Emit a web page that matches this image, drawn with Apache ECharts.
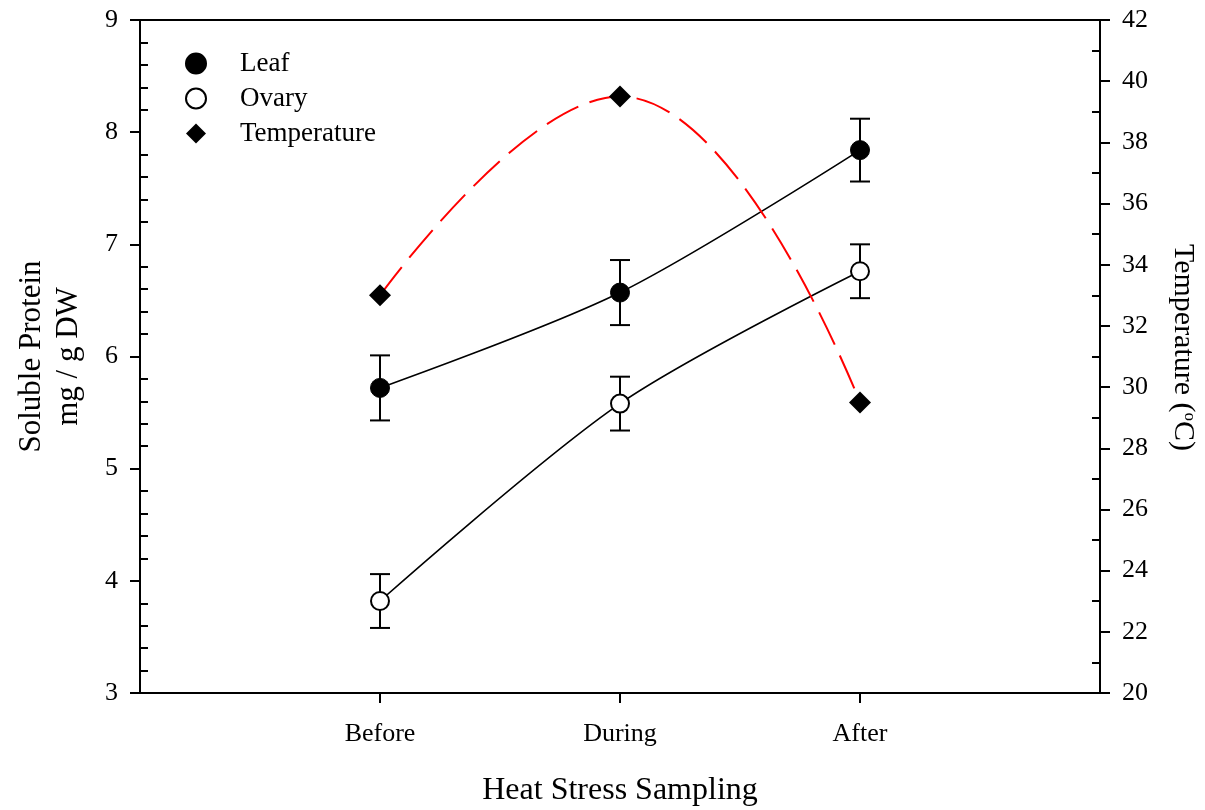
<!DOCTYPE html>
<html>
<head>
<meta charset="utf-8">
<script src="https://cdn.jsdelivr.net/npm/echarts@6/dist/echarts.min.js"></script>
<style>
  html, body { margin: 0; padding: 0; background: #fff; }
  #chart { width: 1205px; height: 810px; }
</style>
</head>
<body>
<div id="chart"></div>
<script>
// data
const categories = ['Before', 'During', 'After'];
const leafMean = [5.72, 6.57, 7.84];
const leafErr = [0.29, 0.29, 0.28];
const ovaryMean = [3.82, 5.58, 6.76];
const ovaryErr = [0.24, 0.24, 0.24];
const temperature = [33, 39.5, 29.5];

const FONT = 'Liberation Serif';

// x positions 1..3 on a 0..4 value axis
const pts = arr => arr.map((v, i) => [i + 1, v]);
const errPts = (mean, err) => mean.map((v, i) => [i + 1, v - err[i], v + err[i]]);

// minor tick positions (inside ticks)
const leftMinor = [];
for (let i = 0; i <= 30; i++) { if (i % 5 !== 0) leftMinor.push(3 + i * 0.2); }
const rightMinor = [];
for (let v = 21; v < 42; v += 2) rightMinor.push(v);

const chart = echarts.init(document.getElementById('chart'));

function errorBar(params, api) {
    const x = api.value(0);
    const lo = api.coord([x, api.value(1)]);
    const hi = api.coord([x, api.value(2)]);
    const w = 10;
    const style = { stroke: '#000', lineWidth: 2 };
    return {
        type: 'group',
        children: [
            { type: 'line', shape: { x1: lo[0], y1: lo[1], x2: hi[0], y2: hi[1] }, style: style },
            { type: 'line', shape: { x1: lo[0] - w, y1: lo[1], x2: lo[0] + w, y2: lo[1] }, style: style },
            { type: 'line', shape: { x1: hi[0] - w, y1: hi[1], x2: hi[0] + w, y2: hi[1] }, style: style }
        ]
    };
}

const option = {
    animation: false,
    backgroundColor: '#fff',
    grid: {
        left: 140, right: 105, top: 20, bottom: 117,
        outerBoundsMode: 'none',
        show: true, borderColor: '#000', borderWidth: 2
    },
    legend: {
        orient: 'vertical',
        left: 180, top: 45,
        itemWidth: 20, itemHeight: 20, itemGap: 8,
        textStyle: { fontFamily: FONT, fontSize: 27, lineHeight: 20, color: '#000', padding: [0, 0, 0, 29] },
        data: [
            { name: 'Leaf', icon: 'circle' },
            { name: 'Ovary', icon: 'circle' },
            { name: 'Temperature', icon: 'diamond', itemStyle: { color: '#000' } }
        ]
    },
    xAxis: {
        type: 'value', min: 0, max: 4, interval: 1,
        name: 'Heat Stress Sampling',
        nameLocation: 'middle', nameGap: 82,
        nameTextStyle: { fontFamily: FONT, fontSize: 32, color: '#000' },
        axisLine: { lineStyle: { color: '#000', width: 2 } },
        axisTick: { length: 10, lineStyle: { width: 2 }, customValues: [1, 2, 3] },
        axisLabel: {
            customValues: [1, 2, 3], margin: 28,
            fontFamily: FONT, fontSize: 26, color: '#000',
            formatter: v => categories[v - 1] || ''
        },
        splitLine: { show: false }
    },
    yAxis: [
        {
            type: 'value', min: 3, max: 9, interval: 1, position: 'left',
            name: 'Soluble Protein\nmg / g DW',
            nameLocation: 'middle', nameGap: 53, nameRotate: 90,
            nameTextStyle: { fontFamily: FONT, fontSize: 31, color: '#000', lineHeight: 37 },
            axisLine: { show: true, lineStyle: { color: '#000', width: 2 } },
            axisTick: { show: true, length: 10, lineStyle: { width: 2 } },
            axisLabel: { margin: 22, fontFamily: FONT, fontSize: 26, color: '#000' },
            splitLine: { show: false }
        },
        {
            type: 'value', min: 20, max: 42, interval: 2, position: 'right',
            name: '{t|Temperature (}{s|o}{t|C)}',
            nameLocation: 'middle', nameGap: 68, nameRotate: -90,
            nameTextStyle: {
                fontFamily: FONT, fontSize: 30, color: '#000',
                padding: [0, 18, 0, 0],
                rich: {
                    t: { fontFamily: FONT, fontSize: 30, color: '#000' },
                    s: { fontFamily: FONT, fontSize: 17, color: '#000', padding: [0, 0, 13, 0] }
                }
            },
            axisLine: { show: true, lineStyle: { color: '#000', width: 2 } },
            axisTick: { show: true, length: 10, lineStyle: { width: 2 } },
            axisLabel: { margin: 22, fontFamily: FONT, fontSize: 26, color: '#000' },
            splitLine: { show: false }
        },
        {
            // inside minor ticks, left
            type: 'value', min: 3, max: 9, position: 'left',
            axisLine: { show: false },
            axisTick: { show: true, inside: true, length: 8, lineStyle: { color: '#000', width: 2 }, customValues: leftMinor },
            axisLabel: { show: false },
            splitLine: { show: false }
        },
        {
            // inside minor ticks, right
            type: 'value', min: 20, max: 42, position: 'right',
            axisLine: { show: false },
            axisTick: { show: true, inside: true, length: 8, lineStyle: { color: '#000', width: 2 }, customValues: rightMinor },
            axisLabel: { show: false },
            splitLine: { show: false }
        }
    ],
    series: [
        {
            type: 'custom', name: 'leafErr', yAxisIndex: 0, z: 2,
            renderItem: errorBar, data: errPts(leafMean, leafErr), silent: true
        },
        {
            type: 'custom', name: 'ovaryErr', yAxisIndex: 0, z: 2,
            renderItem: errorBar, data: errPts(ovaryMean, ovaryErr), silent: true
        },
        {
            name: 'Leaf', type: 'line', yAxisIndex: 0, z: 3,
            data: pts(leafMean), smooth: 0.3,
            symbol: 'circle', symbolSize: 19,
            itemStyle: { color: '#000', borderColor: '#000', borderWidth: 1 },
            lineStyle: { color: '#000', width: 1.6 }
        },
        {
            name: 'Ovary', type: 'line', yAxisIndex: 0, z: 3,
            data: pts(ovaryMean), smooth: 0.3,
            symbol: 'circle', symbolSize: 18,
            itemStyle: { color: '#fff', borderColor: '#000', borderWidth: 2 },
            lineStyle: { color: '#000', width: 1.6 }
        },
        {
            name: 'Temperature', type: 'line', yAxisIndex: 1, z: 3,
            data: pts(temperature), smooth: 0.45,
            symbol: 'diamond', symbolSize: 22,
            itemStyle: { color: '#000' },
            lineStyle: { color: '#ff0000', width: 2, type: [36, 12] }
        }
    ]
};

chart.setOption(option);
</script>
</body>
</html>
